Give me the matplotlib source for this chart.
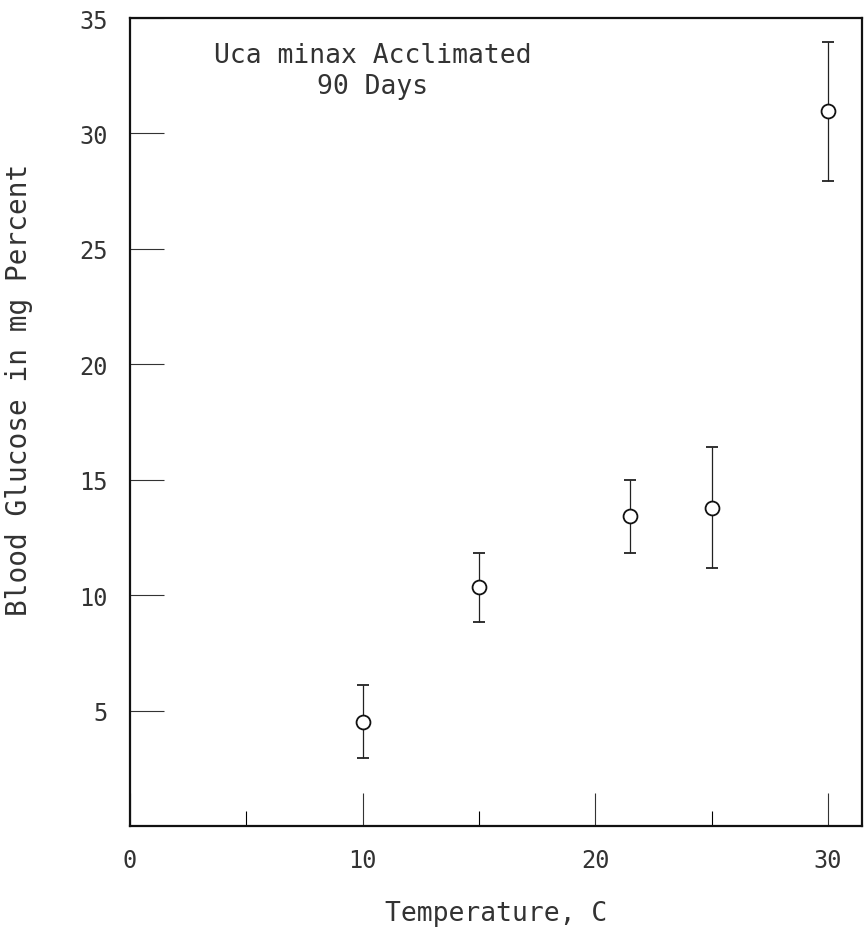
import matplotlib.pyplot as plt
import numpy as np
from matplotlib.ticker import FixedLocator

temperature = np.array([10, 15, 21.5, 25, 30])
glucose = np.array([4.5, 10.35, 13.43, 13.77, 30.97])
err_low = np.array([2.94, 8.83, 11.82, 11.17, 27.94])
err_high = np.array([6.11, 11.82, 14.98, 16.41, 33.95])

x_major = [0, 10, 20, 30]
x_minor = [5, 15, 25]
y_ticks = [5, 10, 15, 20, 25, 30, 35]

plt.rcParams["font.family"] = ["DejaVu Sans Mono"]

fig = plt.figure(figsize=(8.64, 9.28), dpi=100)
ax = fig.add_axes([0.1505, 0.1088, 0.8472, 0.8707])

yerr = np.vstack([glucose - err_low, err_high - glucose])
ax.errorbar(temperature, glucose, yerr=yerr, fmt="o", color="#222222",
            markerfacecolor="white", markeredgecolor="#111111",
            markersize=10, markeredgewidth=1.3, elinewidth=0.9,
            capsize=4.5, capthick=1.2, zorder=3)

ax.set_xlim(0, 31.46)
ax.set_ylim(0, 35)

ax.xaxis.set_major_locator(FixedLocator(x_major))
ax.xaxis.set_minor_locator(FixedLocator(x_minor))
ax.set_yticks(y_ticks)
ax.set_xticklabels([str(v) for v in x_major])
ax.set_yticklabels([str(v) for v in y_ticks])

ax.tick_params(axis="x", which="major", direction="in", length=24, width=0.8,
               pad=16, labelsize=17, colors="#333333")
ax.tick_params(axis="x", which="minor", direction="in", length=11, width=0.8)
ax.tick_params(axis="y", direction="in", length=24.5, width=0.8,
               pad=16, labelsize=17, colors="#333333")

for side in ["left", "right", "top", "bottom"]:
    ax.spines[side].set_linewidth(1.6)
    ax.spines[side].set_color("#111111")

ax.set_xlabel("Temperature, C", fontsize=19, color="#333333")
ax.xaxis.label.set_va("center")
ax.xaxis.set_label_coords(0.5, -0.1075)

ax.set_ylabel("Blood Glucose in mg Percent", fontsize=20, color="#333333")
ax.yaxis.label.set_va("center")
ax.yaxis.set_label_coords(-0.152, 0.541)

ax.text(0.332, 0.970, "Uca minax Acclimated\n90 Days", transform=ax.transAxes,
        ha="center", va="top", fontsize=19, linespacing=1.25, color="#333333")

fig.savefig("out.png", dpi=100)
